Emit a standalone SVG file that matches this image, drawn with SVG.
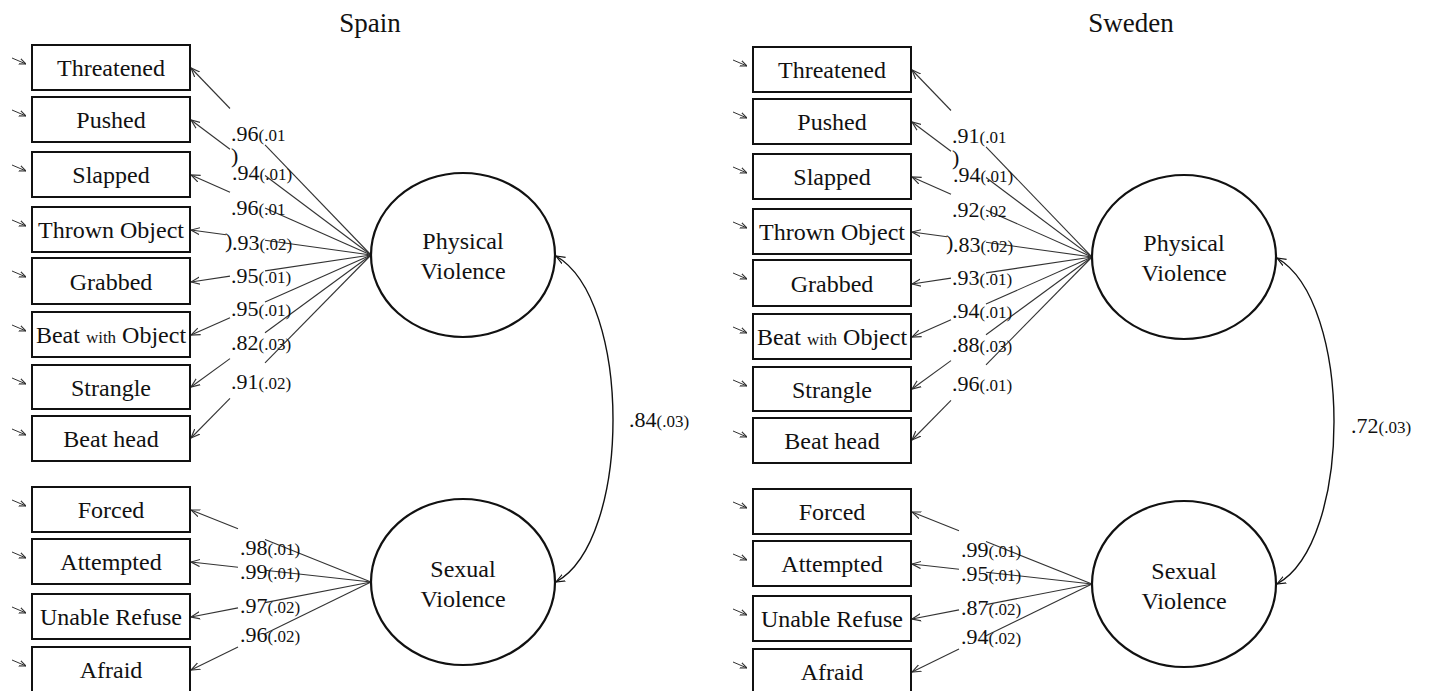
<svg xmlns="http://www.w3.org/2000/svg" width="1429" height="691" viewBox="0 0 1429 691">
<style>
.t{font-family:"Liberation Serif","Times New Roman",serif;fill:#111}
.box{fill:#fff;stroke:#111;stroke-width:2}
.lv{fill:#fff;stroke:#111;stroke-width:2.2}
.ld{stroke:#333;stroke-width:1.1;fill:none}
.er{stroke:#333;stroke-width:1;fill:none}
.cv{stroke:#111;stroke-width:1.4;fill:none}
.bl{font-size:24px;text-anchor:middle}
.lt{font-size:24px;text-anchor:middle}
.num{font-size:22px}
.se{font-size:17px}
.sm{font-size:17px}
.title{font-size:27px;text-anchor:middle}
</style>
<defs>
<marker id="arr" viewBox="0 0 10 10" refX="10" refY="5" markerWidth="9" markerHeight="9" markerUnits="userSpaceOnUse" orient="auto">
<path d="M0,1 L10,5 L0,9" fill="none" stroke="#333" stroke-width="1.3"/>
</marker>
<marker id="arrs" viewBox="0 0 10 10" refX="10" refY="5" markerWidth="7" markerHeight="7" markerUnits="userSpaceOnUse" orient="auto">
<path d="M0,1 L10,5 L0,9" fill="none" stroke="#333" stroke-width="1.6"/>
</marker>
<marker id="arrc" viewBox="0 0 10 10" refX="10" refY="5" markerWidth="9" markerHeight="9" markerUnits="userSpaceOnUse" orient="auto-start-reverse">
<path d="M0,1 L10,5 L0,9" fill="none" stroke="#111" stroke-width="1.3"/>
</marker>
</defs>
<rect width="1429" height="691" fill="#fff"/>

<!-- ================= SPAIN ================= -->
<g id="spain">
<text class="t title" x="370" y="32">Spain</text>

<g id="spain-connectors">
<line class="er" x1="12" y1="58" x2="26" y2="64" marker-end="url(#arrs)"/>
<line class="er" x1="12" y1="110" x2="26" y2="116" marker-end="url(#arrs)"/>
<line class="er" x1="12" y1="165" x2="26" y2="171" marker-end="url(#arrs)"/>
<line class="er" x1="12" y1="220" x2="26" y2="226" marker-end="url(#arrs)"/>
<line class="er" x1="12" y1="271" x2="26" y2="277" marker-end="url(#arrs)"/>
<line class="er" x1="12" y1="325" x2="26" y2="331" marker-end="url(#arrs)"/>
<line class="er" x1="12" y1="378" x2="26" y2="384" marker-end="url(#arrs)"/>
<line class="er" x1="12" y1="429" x2="26" y2="435" marker-end="url(#arrs)"/>
<line class="er" x1="12" y1="500" x2="26" y2="506" marker-end="url(#arrs)"/>
<line class="er" x1="12" y1="552" x2="26" y2="558" marker-end="url(#arrs)"/>
<line class="er" x1="12" y1="607" x2="26" y2="613" marker-end="url(#arrs)"/>
<line class="er" x1="12" y1="660" x2="26" y2="666" marker-end="url(#arrs)"/>
<line class="ld" x1="230" y1="108.5" x2="191" y2="68" marker-end="url(#arr)"/>
<line class="ld" x1="265" y1="144.9" x2="371" y2="255"/>
<line class="ld" x1="230" y1="149.3" x2="191" y2="120" marker-end="url(#arr)"/>
<line class="ld" x1="265" y1="175.5" x2="371" y2="255"/>
<line class="ld" x1="230" y1="192.3" x2="191" y2="175" marker-end="url(#arr)"/>
<line class="ld" x1="265" y1="207.9" x2="371" y2="255"/>
<line class="ld" x1="226" y1="234.8" x2="191" y2="230" marker-end="url(#arr)"/>
<line class="ld" x1="265" y1="240.3" x2="371" y2="255"/>
<line class="ld" x1="230" y1="276.1" x2="191" y2="282" marker-end="url(#arr)"/>
<line class="ld" x1="265" y1="270.9" x2="371" y2="255"/>
<line class="ld" x1="230" y1="317.7" x2="191" y2="335" marker-end="url(#arr)"/>
<line class="ld" x1="265" y1="302.1" x2="371" y2="255"/>
<line class="ld" x1="230" y1="358.6" x2="191" y2="387" marker-end="url(#arr)"/>
<line class="ld" x1="265" y1="332.7" x2="371" y2="255"/>
<line class="ld" x1="230" y1="398.3" x2="191" y2="438" marker-end="url(#arr)"/>
<line class="ld" x1="265" y1="362.8" x2="371" y2="255"/>
<line class="ld" x1="238" y1="528.8" x2="191" y2="510" marker-end="url(#arr)"/>
<line class="ld" x1="265" y1="539.6" x2="371" y2="582"/>
<line class="ld" x1="238" y1="567.2" x2="191" y2="562" marker-end="url(#arr)"/>
<line class="ld" x1="265" y1="570.2" x2="371" y2="582"/>
<line class="ld" x1="238" y1="607.9" x2="191" y2="617" marker-end="url(#arr)"/>
<line class="ld" x1="265" y1="602.6" x2="371" y2="582"/>
<line class="ld" x1="238" y1="647" x2="191" y2="670" marker-end="url(#arr)"/>
<line class="ld" x1="265" y1="633.8" x2="371" y2="582"/>
<path class="cv" d="M556,256 C632,300 632,540 556,582" marker-start="url(#arrc)" marker-end="url(#arrc)"/>
</g>

<g id="spain-labels">
<text class="t num" x="231" y="141">.96<tspan class="se">(.01</tspan></text>
<text class="t num" x="231" y="163">)</text>
<text class="t num" x="232" y="180">.94<tspan class="se">(.01)</tspan></text>
<text class="t num" x="231" y="215">.96<tspan class="se">(.01</tspan></text>
<text class="t num" x="225" y="248">)</text>
<text class="t num" x="232" y="250">.93<tspan class="se">(.02)</tspan></text>
<text class="t num" x="231" y="283">.95<tspan class="se">(.01)</tspan></text>
<text class="t num" x="231" y="316">.95<tspan class="se">(.01)</tspan></text>
<text class="t num" x="231" y="350">.82<tspan class="se">(.03)</tspan></text>
<text class="t num" x="231" y="389">.91<tspan class="se">(.02)</tspan></text>
<text class="t num" x="240" y="555">.98<tspan class="se">(.01)</tspan></text>
<text class="t num" x="240" y="579">.99<tspan class="se">(.01)</tspan></text>
<text class="t num" x="240" y="613">.97<tspan class="se">(.02)</tspan></text>
<text class="t num" x="240" y="642">.96<tspan class="se">(.02)</tspan></text>
<text class="t num" x="629" y="427">.84<tspan class="se">(.03)</tspan></text>
</g>

<g id="es-threatened"><rect class="box" x="32" y="45" width="158" height="45"/><text class="t bl" x="111" y="76">Threatened</text></g>
<g id="es-pushed"><rect class="box" x="32" y="97" width="158" height="45"/><text class="t bl" x="111" y="128">Pushed</text></g>
<g id="es-slapped"><rect class="box" x="32" y="152" width="158" height="45"/><text class="t bl" x="111" y="183">Slapped</text></g>
<g id="es-thrown"><rect class="box" x="32" y="207" width="158" height="45"/><text class="t bl" x="111" y="238">Thrown Object</text></g>
<g id="es-grabbed"><rect class="box" x="32" y="258" width="158" height="46"/><text class="t bl" x="111" y="290">Grabbed</text></g>
<g id="es-beatobj"><rect class="box" x="32" y="312" width="158" height="45"/><text class="t bl" x="111" y="343">Beat <tspan class="sm">with</tspan> Object</text></g>
<g id="es-strangle"><rect class="box" x="32" y="365" width="158" height="44"/><text class="t bl" x="111" y="396">Strangle</text></g>
<g id="es-beathead"><rect class="box" x="32" y="416" width="158" height="45"/><text class="t bl" x="111" y="447">Beat head</text></g>
<g id="es-forced"><rect class="box" x="32" y="487" width="158" height="45"/><text class="t bl" x="111" y="518">Forced</text></g>
<g id="es-attempted"><rect class="box" x="32" y="539" width="158" height="45"/><text class="t bl" x="111" y="570">Attempted</text></g>
<g id="es-unable"><rect class="box" x="32" y="594" width="158" height="45"/><text class="t bl" x="111" y="625">Unable Refuse</text></g>
<g id="es-afraid"><rect class="box" x="32" y="647" width="158" height="46"/><text class="t bl" x="111" y="678">Afraid</text></g>

<g id="es-physical"><ellipse class="lv" cx="463" cy="255" rx="92" ry="82"/><text class="t lt" x="463" y="249">Physical</text><text class="t lt" x="463" y="279">Violence</text></g>
<g id="es-sexual"><ellipse class="lv" cx="463" cy="582" rx="92" ry="83"/><text class="t lt" x="463" y="577">Sexual</text><text class="t lt" x="463" y="607">Violence</text></g>
</g>

<!-- ================= SWEDEN ================= -->
<text class="t title" x="1131" y="32">Sweden</text>
<g id="sweden" transform="translate(721,2)">
<g id="sweden-connectors">
<line class="er" x1="12" y1="58" x2="26" y2="64" marker-end="url(#arrs)"/>
<line class="er" x1="12" y1="110" x2="26" y2="116" marker-end="url(#arrs)"/>
<line class="er" x1="12" y1="165" x2="26" y2="171" marker-end="url(#arrs)"/>
<line class="er" x1="12" y1="220" x2="26" y2="226" marker-end="url(#arrs)"/>
<line class="er" x1="12" y1="271" x2="26" y2="277" marker-end="url(#arrs)"/>
<line class="er" x1="12" y1="325" x2="26" y2="331" marker-end="url(#arrs)"/>
<line class="er" x1="12" y1="378" x2="26" y2="384" marker-end="url(#arrs)"/>
<line class="er" x1="12" y1="429" x2="26" y2="435" marker-end="url(#arrs)"/>
<line class="er" x1="12" y1="500" x2="26" y2="506" marker-end="url(#arrs)"/>
<line class="er" x1="12" y1="552" x2="26" y2="558" marker-end="url(#arrs)"/>
<line class="er" x1="12" y1="607" x2="26" y2="613" marker-end="url(#arrs)"/>
<line class="er" x1="12" y1="660" x2="26" y2="666" marker-end="url(#arrs)"/>
<line class="ld" x1="230" y1="108.5" x2="191" y2="68" marker-end="url(#arr)"/>
<line class="ld" x1="265" y1="144.9" x2="371" y2="255"/>
<line class="ld" x1="230" y1="149.3" x2="191" y2="120" marker-end="url(#arr)"/>
<line class="ld" x1="265" y1="175.5" x2="371" y2="255"/>
<line class="ld" x1="230" y1="192.3" x2="191" y2="175" marker-end="url(#arr)"/>
<line class="ld" x1="265" y1="207.9" x2="371" y2="255"/>
<line class="ld" x1="226" y1="234.8" x2="191" y2="230" marker-end="url(#arr)"/>
<line class="ld" x1="265" y1="240.3" x2="371" y2="255"/>
<line class="ld" x1="230" y1="276.1" x2="191" y2="282" marker-end="url(#arr)"/>
<line class="ld" x1="265" y1="270.9" x2="371" y2="255"/>
<line class="ld" x1="230" y1="317.7" x2="191" y2="335" marker-end="url(#arr)"/>
<line class="ld" x1="265" y1="302.1" x2="371" y2="255"/>
<line class="ld" x1="230" y1="358.6" x2="191" y2="387" marker-end="url(#arr)"/>
<line class="ld" x1="265" y1="332.7" x2="371" y2="255"/>
<line class="ld" x1="230" y1="398.3" x2="191" y2="438" marker-end="url(#arr)"/>
<line class="ld" x1="265" y1="362.8" x2="371" y2="255"/>
<line class="ld" x1="238" y1="528.8" x2="191" y2="510" marker-end="url(#arr)"/>
<line class="ld" x1="265" y1="539.6" x2="371" y2="582"/>
<line class="ld" x1="238" y1="567.2" x2="191" y2="562" marker-end="url(#arr)"/>
<line class="ld" x1="265" y1="570.2" x2="371" y2="582"/>
<line class="ld" x1="238" y1="607.9" x2="191" y2="617" marker-end="url(#arr)"/>
<line class="ld" x1="265" y1="602.6" x2="371" y2="582"/>
<line class="ld" x1="238" y1="647" x2="191" y2="670" marker-end="url(#arr)"/>
<line class="ld" x1="265" y1="633.8" x2="371" y2="582"/>
<path class="cv" d="M556,256 C632,300 632,540 556,582" marker-start="url(#arrc)" marker-end="url(#arrc)"/>
</g>

<g id="sweden-labels">
<text class="t num" x="231" y="141">.91<tspan class="se">(.01</tspan></text>
<text class="t num" x="231" y="163">)</text>
<text class="t num" x="232" y="180">.94<tspan class="se">(.01)</tspan></text>
<text class="t num" x="231" y="215">.92<tspan class="se">(.02</tspan></text>
<text class="t num" x="225" y="248">)</text>
<text class="t num" x="232" y="250">.83<tspan class="se">(.02)</tspan></text>
<text class="t num" x="231" y="283">.93<tspan class="se">(.01)</tspan></text>
<text class="t num" x="231" y="316">.94<tspan class="se">(.01)</tspan></text>
<text class="t num" x="231" y="350">.88<tspan class="se">(.03)</tspan></text>
<text class="t num" x="231" y="389">.96<tspan class="se">(.01)</tspan></text>
<text class="t num" x="240" y="555">.99<tspan class="se">(.01)</tspan></text>
<text class="t num" x="240" y="579">.95<tspan class="se">(.01)</tspan></text>
<text class="t num" x="240" y="613">.87<tspan class="se">(.02)</tspan></text>
<text class="t num" x="240" y="642">.94<tspan class="se">(.02)</tspan></text>
<text class="t num" x="630" y="431">.72<tspan class="se">(.03)</tspan></text>
</g>

<g id="se-threatened"><rect class="box" x="32" y="45" width="158" height="45"/><text class="t bl" x="111" y="76">Threatened</text></g>
<g id="se-pushed"><rect class="box" x="32" y="97" width="158" height="45"/><text class="t bl" x="111" y="128">Pushed</text></g>
<g id="se-slapped"><rect class="box" x="32" y="152" width="158" height="45"/><text class="t bl" x="111" y="183">Slapped</text></g>
<g id="se-thrown"><rect class="box" x="32" y="207" width="158" height="45"/><text class="t bl" x="111" y="238">Thrown Object</text></g>
<g id="se-grabbed"><rect class="box" x="32" y="258" width="158" height="46"/><text class="t bl" x="111" y="290">Grabbed</text></g>
<g id="se-beatobj"><rect class="box" x="32" y="312" width="158" height="45"/><text class="t bl" x="111" y="343">Beat <tspan class="sm">with</tspan> Object</text></g>
<g id="se-strangle"><rect class="box" x="32" y="365" width="158" height="44"/><text class="t bl" x="111" y="396">Strangle</text></g>
<g id="se-beathead"><rect class="box" x="32" y="416" width="158" height="45"/><text class="t bl" x="111" y="447">Beat head</text></g>
<g id="se-forced"><rect class="box" x="32" y="487" width="158" height="45"/><text class="t bl" x="111" y="518">Forced</text></g>
<g id="se-attempted"><rect class="box" x="32" y="539" width="158" height="45"/><text class="t bl" x="111" y="570">Attempted</text></g>
<g id="se-unable"><rect class="box" x="32" y="594" width="158" height="45"/><text class="t bl" x="111" y="625">Unable Refuse</text></g>
<g id="se-afraid"><rect class="box" x="32" y="647" width="158" height="46"/><text class="t bl" x="111" y="678">Afraid</text></g>

<g id="se-physical"><ellipse class="lv" cx="463" cy="255" rx="92" ry="82"/><text class="t lt" x="463" y="249">Physical</text><text class="t lt" x="463" y="279">Violence</text></g>
<g id="se-sexual"><ellipse class="lv" cx="463" cy="582" rx="92" ry="83"/><text class="t lt" x="463" y="577">Sexual</text><text class="t lt" x="463" y="607">Violence</text></g>
</g>
</svg>
